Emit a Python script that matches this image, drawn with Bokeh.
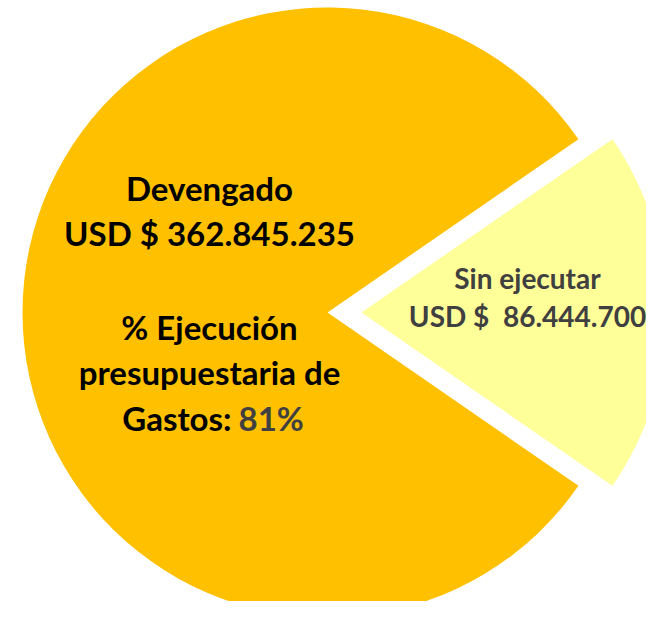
import math
from bokeh.plotting import figure
from bokeh.models import Range1d, ColumnDataSource
from bokeh.core.properties import value
from bokeh.embed import file_html
from bokeh.resources import INLINE

# ---- data ----
categories = ["Devengado", "Sin ejecutar"]
amounts = [362845235, 86444700]
amount_labels = ["USD $ 362.845.235", "USD $\u00a0 86.444.700"]
pct_label = "81%"

# ---- style ----
colors = ["#FFC000", "#FFFF99"]
explode = [0, 34]
RADIUS = 305
CX, CY = 327, 312          # picture-pixel centre of the pie
W, H = 646, 601
PAGE_H = 617
OFF = 0                    # picture pixel of figure's top-left
TEXT_DY = -11              # baseline correction

def dy(py):                 # picture pixel y -> data y
    return PAGE_H - py

total = sum(amounts)
frac_small = amounts[1] / total
half = frac_small * math.pi          # Sin ejecutar centred on 0 rad
starts = [half, -half]
ends = [2 * math.pi - half, half]
mids = [math.pi, 0.0]
xs = [CX + e * math.cos(m) for e, m in zip(explode, mids)]
ys = [dy(CY) + e * math.sin(m) for e, m in zip(explode, mids)]

src = ColumnDataSource(dict(x=xs, y=ys, start=starts, end=ends, color=colors, cat=categories))

p = figure(width=W, height=H, output_backend="svg", toolbar_location=None,
           x_range=Range1d(OFF, OFF + W), y_range=Range1d(PAGE_H - OFF - H, PAGE_H - OFF),
           min_border=0)
p.axis.visible = False
p.grid.visible = False
p.outline_line_color = None
p.background_fill_color = "white"

p.wedge(x="x", y="y", radius=RADIUS, start_angle="start", end_angle="end",
        color="color", line_color=None, source=src)

FONT = value("Lato")

def txt(x, py, s, size, color, align="center"):
    p.text(x=[x], y=[dy(py + TEXT_DY)], text=[s], text_font=FONT, text_font_style="bold",
           text_font_size=f"{size}px", text_color=color, text_align=align,
           text_baseline="alphabetic")

BIG = 33
cx_big = 209
txt(cx_big, 198, categories[0], BIG, "#000000")
txt(cx_big, 243, amount_labels[0], BIG, "#000000")
txt(cx_big, 337, "% Ejecución", BIG, "#000000")
txt(cx_big, 382, "presupuestaria de", BIG, "#000000")
txt(231, 428, "Gastos:", BIG, "#000000", align="right")
txt(238, 428, pct_label, BIG, "#404040", align="left")

SMALL = 28
cx_small = 527
txt(cx_small, 288, categories[1], SMALL, "#404040")
txt(cx_small, 326, amount_labels[1], SMALL, "#404040")

open("out.html", "w").write(file_html(p, INLINE))
